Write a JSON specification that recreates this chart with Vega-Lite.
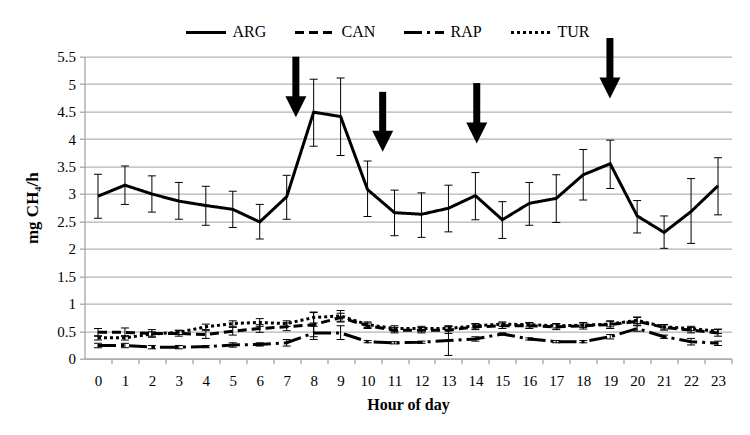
{
  "$schema": "https://vega.github.io/schema/vega-lite/v6.json",
  "autosize": "none",
  "width": 647,
  "height": 302,
  "padding": {"left": 84.5, "top": 56.7, "right": 18.5, "bottom": 76.3},
  "background": "white",
  "datasets": {
    "series": [
      {"h":0,"s":"ARG","v":2.96,"lo":2.56,"hi":3.36},
      {"h":1,"s":"ARG","v":3.16,"lo":2.81,"hi":3.51},
      {"h":2,"s":"ARG","v":3.00,"lo":2.67,"hi":3.33},
      {"h":3,"s":"ARG","v":2.87,"lo":2.54,"hi":3.21},
      {"h":4,"s":"ARG","v":2.79,"lo":2.43,"hi":3.14},
      {"h":5,"s":"ARG","v":2.72,"lo":2.39,"hi":3.05},
      {"h":6,"s":"ARG","v":2.49,"lo":2.18,"hi":2.81},
      {"h":7,"s":"ARG","v":2.95,"lo":2.54,"hi":3.34},
      {"h":8,"s":"ARG","v":4.49,"lo":3.87,"hi":5.09},
      {"h":9,"s":"ARG","v":4.41,"lo":3.70,"hi":5.11},
      {"h":10,"s":"ARG","v":3.08,"lo":2.59,"hi":3.60},
      {"h":11,"s":"ARG","v":2.66,"lo":2.24,"hi":3.07},
      {"h":12,"s":"ARG","v":2.63,"lo":2.21,"hi":3.02},
      {"h":13,"s":"ARG","v":2.74,"lo":2.31,"hi":3.16},
      {"h":14,"s":"ARG","v":2.97,"lo":2.53,"hi":3.39},
      {"h":15,"s":"ARG","v":2.53,"lo":2.19,"hi":2.86},
      {"h":16,"s":"ARG","v":2.83,"lo":2.43,"hi":3.21},
      {"h":17,"s":"ARG","v":2.92,"lo":2.48,"hi":3.35},
      {"h":18,"s":"ARG","v":3.35,"lo":2.89,"hi":3.81},
      {"h":19,"s":"ARG","v":3.55,"lo":3.10,"hi":3.98},
      {"h":20,"s":"ARG","v":2.60,"lo":2.29,"hi":2.88},
      {"h":21,"s":"ARG","v":2.30,"lo":2.01,"hi":2.60},
      {"h":22,"s":"ARG","v":2.68,"lo":2.10,"hi":3.28},
      {"h":23,"s":"ARG","v":3.15,"lo":2.62,"hi":3.66},

      {"h":0,"s":"CAN","v":0.48,"lo":0.41,"hi":0.55},
      {"h":1,"s":"CAN","v":0.48,"lo":0.40,"hi":0.56},
      {"h":2,"s":"CAN","v":0.46,"lo":0.39,"hi":0.53},
      {"h":3,"s":"CAN","v":0.46,"lo":0.41,"hi":0.51},
      {"h":4,"s":"CAN","v":0.44,"lo":0.37,"hi":0.51},
      {"h":5,"s":"CAN","v":0.50,"lo":0.43,"hi":0.57},
      {"h":6,"s":"CAN","v":0.55,"lo":0.48,"hi":0.62},
      {"h":7,"s":"CAN","v":0.58,"lo":0.51,"hi":0.65},
      {"h":8,"s":"CAN","v":0.62,"lo":0.40,"hi":0.84},
      {"h":9,"s":"CAN","v":0.75,"lo":0.67,"hi":0.83},
      {"h":10,"s":"CAN","v":0.60,"lo":0.55,"hi":0.65},
      {"h":11,"s":"CAN","v":0.52,"lo":0.47,"hi":0.57},
      {"h":12,"s":"CAN","v":0.52,"lo":0.47,"hi":0.57},
      {"h":13,"s":"CAN","v":0.52,"lo":0.46,"hi":0.58},
      {"h":14,"s":"CAN","v":0.58,"lo":0.53,"hi":0.63},
      {"h":15,"s":"CAN","v":0.60,"lo":0.55,"hi":0.65},
      {"h":16,"s":"CAN","v":0.60,"lo":0.55,"hi":0.65},
      {"h":17,"s":"CAN","v":0.58,"lo":0.53,"hi":0.63},
      {"h":18,"s":"CAN","v":0.60,"lo":0.54,"hi":0.66},
      {"h":19,"s":"CAN","v":0.62,"lo":0.55,"hi":0.69},
      {"h":20,"s":"CAN","v":0.68,"lo":0.61,"hi":0.75},
      {"h":21,"s":"CAN","v":0.57,"lo":0.52,"hi":0.62},
      {"h":22,"s":"CAN","v":0.52,"lo":0.47,"hi":0.57},
      {"h":23,"s":"CAN","v":0.47,"lo":0.41,"hi":0.53},

      {"h":0,"s":"RAP","v":0.24,"lo":0.20,"hi":0.28},
      {"h":1,"s":"RAP","v":0.24,"lo":0.20,"hi":0.28},
      {"h":2,"s":"RAP","v":0.21,"lo":0.18,"hi":0.24},
      {"h":3,"s":"RAP","v":0.21,"lo":0.18,"hi":0.24},
      {"h":4,"s":"RAP","v":0.22,"lo":0.20,"hi":0.24},
      {"h":5,"s":"RAP","v":0.25,"lo":0.21,"hi":0.29},
      {"h":6,"s":"RAP","v":0.26,"lo":0.23,"hi":0.29},
      {"h":7,"s":"RAP","v":0.29,"lo":0.23,"hi":0.35},
      {"h":8,"s":"RAP","v":0.47,"lo":0.35,"hi":0.59},
      {"h":9,"s":"RAP","v":0.47,"lo":0.35,"hi":0.60},
      {"h":10,"s":"RAP","v":0.31,"lo":0.29,"hi":0.33},
      {"h":11,"s":"RAP","v":0.29,"lo":0.27,"hi":0.31},
      {"h":12,"s":"RAP","v":0.30,"lo":0.28,"hi":0.32},
      {"h":13,"s":"RAP","v":0.33,"lo":0.06,"hi":0.60},
      {"h":14,"s":"RAP","v":0.36,"lo":0.32,"hi":0.40},
      {"h":15,"s":"RAP","v":0.45,"lo":0.43,"hi":0.47},
      {"h":16,"s":"RAP","v":0.36,"lo":0.34,"hi":0.38},
      {"h":17,"s":"RAP","v":0.31,"lo":0.29,"hi":0.33},
      {"h":18,"s":"RAP","v":0.31,"lo":0.29,"hi":0.33},
      {"h":19,"s":"RAP","v":0.40,"lo":0.36,"hi":0.44},
      {"h":20,"s":"RAP","v":0.55,"lo":0.50,"hi":0.60},
      {"h":21,"s":"RAP","v":0.40,"lo":0.37,"hi":0.43},
      {"h":22,"s":"RAP","v":0.31,"lo":0.25,"hi":0.37},
      {"h":23,"s":"RAP","v":0.28,"lo":0.24,"hi":0.32},

      {"h":0,"s":"TUR","v":0.38,"lo":0.34,"hi":0.42},
      {"h":1,"s":"TUR","v":0.38,"lo":0.34,"hi":0.42},
      {"h":2,"s":"TUR","v":0.45,"lo":0.41,"hi":0.49},
      {"h":3,"s":"TUR","v":0.48,"lo":0.44,"hi":0.52},
      {"h":4,"s":"TUR","v":0.58,"lo":0.53,"hi":0.63},
      {"h":5,"s":"TUR","v":0.64,"lo":0.59,"hi":0.69},
      {"h":6,"s":"TUR","v":0.66,"lo":0.59,"hi":0.73},
      {"h":7,"s":"TUR","v":0.64,"lo":0.59,"hi":0.69},
      {"h":8,"s":"TUR","v":0.75,"lo":0.65,"hi":0.85},
      {"h":9,"s":"TUR","v":0.78,"lo":0.68,"hi":0.88},
      {"h":10,"s":"TUR","v":0.62,"lo":0.57,"hi":0.67},
      {"h":11,"s":"TUR","v":0.55,"lo":0.50,"hi":0.60},
      {"h":12,"s":"TUR","v":0.55,"lo":0.51,"hi":0.59},
      {"h":13,"s":"TUR","v":0.55,"lo":0.51,"hi":0.59},
      {"h":14,"s":"TUR","v":0.60,"lo":0.56,"hi":0.64},
      {"h":15,"s":"TUR","v":0.63,"lo":0.59,"hi":0.67},
      {"h":16,"s":"TUR","v":0.62,"lo":0.58,"hi":0.66},
      {"h":17,"s":"TUR","v":0.60,"lo":0.56,"hi":0.64},
      {"h":18,"s":"TUR","v":0.61,"lo":0.57,"hi":0.65},
      {"h":19,"s":"TUR","v":0.63,"lo":0.58,"hi":0.68},
      {"h":20,"s":"TUR","v":0.70,"lo":0.64,"hi":0.76},
      {"h":21,"s":"TUR","v":0.58,"lo":0.54,"hi":0.62},
      {"h":22,"s":"TUR","v":0.55,"lo":0.51,"hi":0.59},
      {"h":23,"s":"TUR","v":0.50,"lo":0.46,"hi":0.54}
    ],
    "arrows": [
      {"h": 7.34, "lo": 5.50, "hi": 4.59},
      {"h": 10.56, "lo": 4.86, "hi": 3.96},
      {"h": 14.05, "lo": 5.02, "hi": 4.11},
      {"h": 18.99, "lo": 5.84, "hi": 4.93}
    ]
  },
  "layer": [
    {
      "data": {"name": "series"},
      "mark": {"type": "line", "color": "black", "strokeWidth": 3, "strokeCap": "butt", "strokeJoin": "miter"},
      "encoding": {
        "x": {
          "field": "h", "type": "quantitative", "title": "Hour of day",
          "scale": {"domain": [-0.5, 23.5], "nice": false, "zero": false},
          "axis": {
            "values": [0,1,2,3,4,5,6,7,8,9,10,11,12,13,14,15,16,17,18,19,20,21,22,23],
            "grid": false, "labelAngle": 0, "tickOffset": 13.48, "labelOffset": -13.48,
            "labelFont": "Liberation Serif", "labelFontSize": 15, "labelColor": "black",
            "titleFont": "Liberation Serif", "titleFontSize": 16, "titleFontWeight": "bold", "titleColor": "black",
            "labelPadding": 10, "titlePadding": 8, "tickSize": 5, "tickColor": "#a6a6a6", "tickWidth": 1.3,
            "domainColor": "#a6a6a6", "domainWidth": 1.3, "labelOverlap": false
          }
        },
        "y": {
          "field": "v", "type": "quantitative", "title": "mg CH₄/h",
          "scale": {"domain": [0, 5.5], "nice": false},
          "axis": {
            "values": [0,0.5,1,1.5,2,2.5,3,3.5,4,4.5,5,5.5], "format": "~g",
            "grid": true, "gridColor": "#b3b3b3", "gridWidth": 1.3,
            "labelFont": "Liberation Serif", "labelFontSize": 15, "labelColor": "black",
            "titleFont": "Liberation Serif", "titleFontSize": 17, "titleFontWeight": "bold", "titleColor": "black",
            "labelPadding": 4, "titlePadding": 15, "tickSize": 5, "tickColor": "#a6a6a6", "tickWidth": 1.3,
            "domainColor": "#a6a6a6", "domainWidth": 1.3, "labelOverlap": false
          }
        },
        "strokeDash": {
          "field": "s", "type": "nominal",
          "scale": {"domain": ["ARG","CAN","RAP","TUR"], "range": [[1,0],[9,5],[18,5,3,5],[3,3]]},
          "legend": {
            "orient": "none", "direction": "horizontal", "legendX": 100, "legendY": -46,
            "title": null, "symbolType": "stroke", "symbolSize": 1600, "symbolStrokeWidth": 3,
            "symbolStrokeColor": "black", "labelFont": "Liberation Serif", "labelFontSize": 16,
            "labelColor": "black", "labelOffset": 5, "columnPadding": 22
          }
        }
      }
    },
    {
      "data": {"name": "series"},
      "mark": {"type": "rule", "color": "black", "strokeWidth": 1},
      "encoding": {
        "x": {
          "field": "h", "type": "quantitative", "title": "Hour of day",
          "axis": {
            "values": [0,1,2,3,4,5,6,7,8,9,10,11,12,13,14,15,16,17,18,19,20,21,22,23],
            "grid": false, "labelAngle": 0, "tickOffset": 13.48, "labelOffset": -13.48,
            "labelFont": "Liberation Serif", "labelFontSize": 15, "labelColor": "black",
            "titleFont": "Liberation Serif", "titleFontSize": 16, "titleFontWeight": "bold", "titleColor": "black",
            "labelPadding": 10, "titlePadding": 8, "tickSize": 5, "tickColor": "#a6a6a6", "tickWidth": 1.3,
            "domainColor": "#a6a6a6", "domainWidth": 1.3, "labelOverlap": false
          }
        },
        "y": {
          "field": "lo", "type": "quantitative", "title": "mg CH₄/h",
          "axis": {
            "values": [0,0.5,1,1.5,2,2.5,3,3.5,4,4.5,5,5.5], "format": "~g",
            "grid": true, "gridColor": "#b3b3b3", "gridWidth": 1.3,
            "labelFont": "Liberation Serif", "labelFontSize": 15, "labelColor": "black",
            "titleFont": "Liberation Serif", "titleFontSize": 17, "titleFontWeight": "bold", "titleColor": "black",
            "labelPadding": 4, "titlePadding": 15, "tickSize": 5, "tickColor": "#a6a6a6", "tickWidth": 1.3,
            "domainColor": "#a6a6a6", "domainWidth": 1.3, "labelOverlap": false
          }
        },
        "y2": {"field": "hi"}
      }
    },
    {
      "data": {"name": "series"},
      "mark": {"type": "tick", "orient": "horizontal", "color": "black", "thickness": 1, "size": 8, "opacity": 1},
      "encoding": {
        "x": {
          "field": "h", "type": "quantitative", "title": "Hour of day",
          "axis": {
            "values": [0,1,2,3,4,5,6,7,8,9,10,11,12,13,14,15,16,17,18,19,20,21,22,23],
            "grid": false, "labelAngle": 0, "tickOffset": 13.48, "labelOffset": -13.48,
            "labelFont": "Liberation Serif", "labelFontSize": 15, "labelColor": "black",
            "titleFont": "Liberation Serif", "titleFontSize": 16, "titleFontWeight": "bold", "titleColor": "black",
            "labelPadding": 10, "titlePadding": 8, "tickSize": 5, "tickColor": "#a6a6a6", "tickWidth": 1.3,
            "domainColor": "#a6a6a6", "domainWidth": 1.3, "labelOverlap": false
          }
        },
        "y": {
          "field": "lo", "type": "quantitative", "title": "mg CH₄/h",
          "axis": {
            "values": [0,0.5,1,1.5,2,2.5,3,3.5,4,4.5,5,5.5], "format": "~g",
            "grid": true, "gridColor": "#b3b3b3", "gridWidth": 1.3,
            "labelFont": "Liberation Serif", "labelFontSize": 15, "labelColor": "black",
            "titleFont": "Liberation Serif", "titleFontSize": 17, "titleFontWeight": "bold", "titleColor": "black",
            "labelPadding": 4, "titlePadding": 15, "tickSize": 5, "tickColor": "#a6a6a6", "tickWidth": 1.3,
            "domainColor": "#a6a6a6", "domainWidth": 1.3, "labelOverlap": false
          }
        }
      }
    },
    {
      "data": {"name": "series"},
      "mark": {"type": "tick", "orient": "horizontal", "color": "black", "thickness": 1, "size": 8, "opacity": 1},
      "encoding": {
        "x": {
          "field": "h", "type": "quantitative", "title": "Hour of day",
          "axis": {
            "values": [0,1,2,3,4,5,6,7,8,9,10,11,12,13,14,15,16,17,18,19,20,21,22,23],
            "grid": false, "labelAngle": 0, "tickOffset": 13.48, "labelOffset": -13.48,
            "labelFont": "Liberation Serif", "labelFontSize": 15, "labelColor": "black",
            "titleFont": "Liberation Serif", "titleFontSize": 16, "titleFontWeight": "bold", "titleColor": "black",
            "labelPadding": 10, "titlePadding": 8, "tickSize": 5, "tickColor": "#a6a6a6", "tickWidth": 1.3,
            "domainColor": "#a6a6a6", "domainWidth": 1.3, "labelOverlap": false
          }
        },
        "y": {
          "field": "hi", "type": "quantitative", "title": "mg CH₄/h",
          "axis": {
            "values": [0,0.5,1,1.5,2,2.5,3,3.5,4,4.5,5,5.5], "format": "~g",
            "grid": true, "gridColor": "#b3b3b3", "gridWidth": 1.3,
            "labelFont": "Liberation Serif", "labelFontSize": 15, "labelColor": "black",
            "titleFont": "Liberation Serif", "titleFontSize": 17, "titleFontWeight": "bold", "titleColor": "black",
            "labelPadding": 4, "titlePadding": 15, "tickSize": 5, "tickColor": "#a6a6a6", "tickWidth": 1.3,
            "domainColor": "#a6a6a6", "domainWidth": 1.3, "labelOverlap": false
          }
        }
      }
    },
    {
      "data": {"name": "arrows"},
      "mark": {"type": "rule", "color": "black", "strokeWidth": 7, "strokeCap": "butt"},
      "encoding": {
        "x": {
          "field": "h", "type": "quantitative", "title": "Hour of day",
          "axis": {
            "values": [0,1,2,3,4,5,6,7,8,9,10,11,12,13,14,15,16,17,18,19,20,21,22,23],
            "grid": false, "labelAngle": 0, "tickOffset": 13.48, "labelOffset": -13.48,
            "labelFont": "Liberation Serif", "labelFontSize": 15, "labelColor": "black",
            "titleFont": "Liberation Serif", "titleFontSize": 16, "titleFontWeight": "bold", "titleColor": "black",
            "labelPadding": 10, "titlePadding": 8, "tickSize": 5, "tickColor": "#a6a6a6", "tickWidth": 1.3,
            "domainColor": "#a6a6a6", "domainWidth": 1.3, "labelOverlap": false
          }
        },
        "y": {
          "field": "lo", "type": "quantitative", "title": "mg CH₄/h",
          "axis": {
            "values": [0,0.5,1,1.5,2,2.5,3,3.5,4,4.5,5,5.5], "format": "~g",
            "grid": true, "gridColor": "#b3b3b3", "gridWidth": 1.3,
            "labelFont": "Liberation Serif", "labelFontSize": 15, "labelColor": "black",
            "titleFont": "Liberation Serif", "titleFontSize": 17, "titleFontWeight": "bold", "titleColor": "black",
            "labelPadding": 4, "titlePadding": 15, "tickSize": 5, "tickColor": "#a6a6a6", "tickWidth": 1.3,
            "domainColor": "#a6a6a6", "domainWidth": 1.3, "labelOverlap": false
          }
        },
        "y2": {"field": "hi"}
      }
    },
    {
      "data": {"name": "arrows"},
      "mark": {"type": "point", "shape": "M-1,-1L1,-1L0,1Z", "filled": true, "color": "black", "opacity": 1, "size": 441, "strokeWidth": 0},
      "encoding": {
        "x": {
          "field": "h", "type": "quantitative", "title": "Hour of day",
          "axis": {
            "values": [0,1,2,3,4,5,6,7,8,9,10,11,12,13,14,15,16,17,18,19,20,21,22,23],
            "grid": false, "labelAngle": 0, "tickOffset": 13.48, "labelOffset": -13.48,
            "labelFont": "Liberation Serif", "labelFontSize": 15, "labelColor": "black",
            "titleFont": "Liberation Serif", "titleFontSize": 16, "titleFontWeight": "bold", "titleColor": "black",
            "labelPadding": 10, "titlePadding": 8, "tickSize": 5, "tickColor": "#a6a6a6", "tickWidth": 1.3,
            "domainColor": "#a6a6a6", "domainWidth": 1.3, "labelOverlap": false
          }
        },
        "y": {
          "field": "hi", "type": "quantitative", "title": "mg CH₄/h",
          "axis": {
            "values": [0,0.5,1,1.5,2,2.5,3,3.5,4,4.5,5,5.5], "format": "~g",
            "grid": true, "gridColor": "#b3b3b3", "gridWidth": 1.3,
            "labelFont": "Liberation Serif", "labelFontSize": 15, "labelColor": "black",
            "titleFont": "Liberation Serif", "titleFontSize": 17, "titleFontWeight": "bold", "titleColor": "black",
            "labelPadding": 4, "titlePadding": 15, "tickSize": 5, "tickColor": "#a6a6a6", "tickWidth": 1.3,
            "domainColor": "#a6a6a6", "domainWidth": 1.3, "labelOverlap": false
          }
        }
      }
    }
  ],
  "config": {
    "view": {"stroke": null}
  }
}
